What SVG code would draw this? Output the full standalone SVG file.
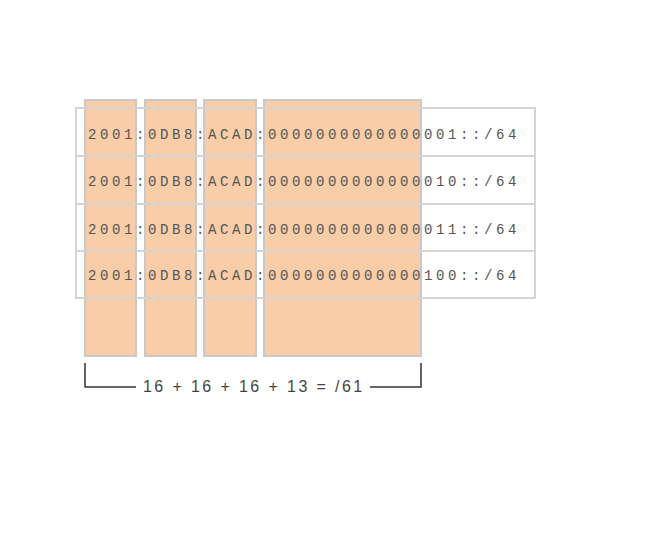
<svg xmlns="http://www.w3.org/2000/svg" width="653" height="556" viewBox="0 0 653 556">
<style>
.col{fill:#f9cda8;stroke:#c8c8c8;stroke-width:2}
.row{fill:none;stroke:#d4d4d4;stroke-width:2}
.addr{font-family:"Liberation Mono","Courier New",monospace;font-size:14px;letter-spacing:3.6px;fill:#555}
.lbl{font-family:"Liberation Sans",Arial,sans-serif;font-size:16px;letter-spacing:2.4px;fill:#444}
.br{fill:none;stroke:#333;stroke-width:1.5}
</style>
<rect width="653" height="556" fill="#fff"/>
<g id="columns">
<rect class="col" x="85" y="100" width="51" height="256"/>
<rect class="col" x="145" y="100" width="51" height="256"/>
<rect class="col" x="204" y="100" width="52" height="256"/>
<rect class="col" x="264" y="100" width="157" height="256"/>
</g>
<g id="rows">
<rect class="row" x="76" y="108" width="459" height="48"/>
<rect class="row" x="76" y="156" width="459" height="48"/>
<rect class="row" x="76" y="204" width="459" height="47"/>
<rect class="row" x="76" y="251" width="459" height="47"/>
</g>
<g id="addresses">
<text class="addr" x="88" y="139">2001:0DB8:ACAD:0000000000000001::/64</text>
<text class="addr" x="88" y="186">2001:0DB8:ACAD:0000000000000010::/64</text>
<text class="addr" x="88" y="234">2001:0DB8:ACAD:0000000000000011::/64</text>
<text class="addr" x="88" y="280">2001:0DB8:ACAD:0000000000000100::/64</text>
</g>
<g id="connectors">
<path class="br" d="M85,363 V387 H136"/>
<path class="br" d="M370,387 H421 V363"/>
</g>
<g id="label">
<text class="lbl" x="143" y="392">16 + 16 + 16 + 13 = /61</text>
</g>
</svg>
